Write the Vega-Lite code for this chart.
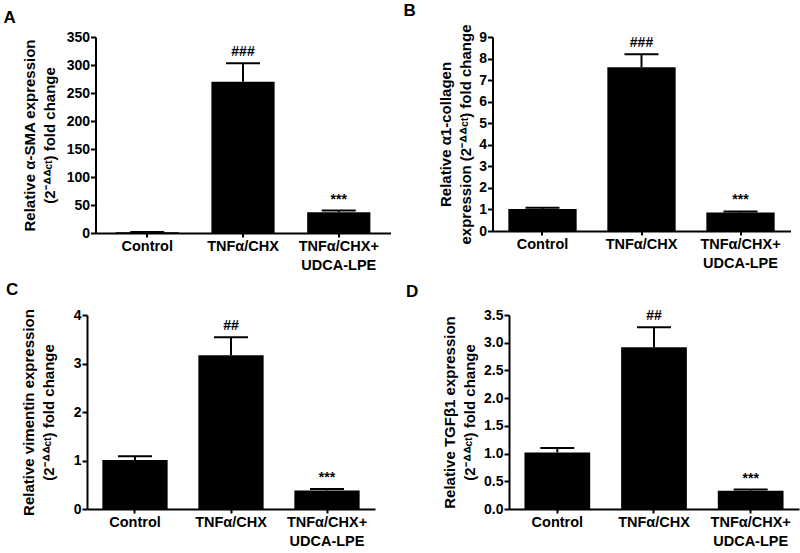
{
  "$schema": "https://vega.github.io/schema/vega-lite/v6.json",
  "padding": {"left": 3, "top": 1, "right": 2, "bottom": 2},
  "background": "white",
  "datasets": {
    "bars": [
      {"panel": "A", "group": "Control", "value": 1.5, "upper": 2.0, "annot": ""},
      {"panel": "A", "group": "TNFα/CHX", "value": 270, "upper": 303, "annot": "###"},
      {"panel": "A", "group": "TNFα/CHX+|UDCA-LPE", "value": 37, "upper": 40, "annot": "***"},
      {"panel": "B", "group": "Control", "value": 1.02, "upper": 1.08, "annot": ""},
      {"panel": "B", "group": "TNFα/CHX", "value": 7.6, "upper": 8.2, "annot": "###"},
      {"panel": "B", "group": "TNFα/CHX+|UDCA-LPE", "value": 0.86, "upper": 0.91, "annot": "***"},
      {"panel": "C", "group": "Control", "value": 1.01, "upper": 1.09, "annot": ""},
      {"panel": "C", "group": "TNFα/CHX", "value": 3.17, "upper": 3.54, "annot": "##"},
      {"panel": "C", "group": "TNFα/CHX+|UDCA-LPE", "value": 0.38, "upper": 0.41, "annot": "***"},
      {"panel": "D", "group": "Control", "value": 1.02, "upper": 1.1, "annot": ""},
      {"panel": "D", "group": "TNFα/CHX", "value": 2.92, "upper": 3.28, "annot": "##"},
      {"panel": "D", "group": "TNFα/CHX+|UDCA-LPE", "value": 0.33, "upper": 0.35, "annot": "***"}
    ]
  },
  "data": {"name": "bars"},
  "vconcat": [
    {
      "hconcat": [
        {
          "width": 295, "height": 196,
          "title": {"text": "A", "dx": -92},
          "transform": [{"filter": "datum.panel == 'A'"}],
          "encoding": {"x": {"field": "group", "type": "nominal", "sort": ["Control", "TNFα/CHX", "TNFα/CHX+|UDCA-LPE"], "scale": {"paddingInner": 0.34, "paddingOuter": 0.21}, "axis": {"title": null, "labelAngle": 0, "labelExpr": "split(datum.label, '|')"}}},
          "layer": [
            {"mark": {"type": "bar", "color": "black"}, "encoding": {"y": {"field": "value", "type": "quantitative", "scale": {"domain": [0, 350], "nice": false}, "axis": {"values": [0, 50, 100, 150, 200, 250, 300, 350], "title": ["Relative α-SMA expression", "(2⁻ᐞᐞᶜᵗ) fold change"], "titlePadding": 9}}}},
            {"mark": {"type": "rule", "color": "black", "strokeWidth": 2}, "encoding": {"y": {"field": "value", "type": "quantitative", "axis": {"values": [0, 50, 100, 150, 200, 250, 300, 350], "title": ["Relative α-SMA expression", "(2⁻ᐞᐞᶜᵗ) fold change"], "titlePadding": 9}}, "y2": {"field": "upper"}}},
            {"mark": {"type": "tick", "color": "black", "thickness": 2, "size": 34, "opacity": 1}, "encoding": {"y": {"field": "upper", "type": "quantitative", "axis": {"values": [0, 50, 100, 150, 200, 250, 300, 350], "title": ["Relative α-SMA expression", "(2⁻ᐞᐞᶜᵗ) fold change"], "titlePadding": 9}}}},
            {"mark": {"type": "text", "baseline": "bottom", "dy": -4, "fontSize": 14, "fontWeight": "bold", "color": "black"}, "encoding": {"y": {"field": "upper", "type": "quantitative", "axis": {"values": [0, 50, 100, 150, 200, 250, 300, 350], "title": ["Relative α-SMA expression", "(2⁻ᐞᐞᶜᵗ) fold change"], "titlePadding": 9}}, "text": {"field": "annot"}}}
          ]
        },
        {
          "width": 298, "height": 194,
          "title": {"text": "B", "dx": -89},
          "transform": [{"filter": "datum.panel == 'B'"}],
          "encoding": {"x": {"field": "group", "type": "nominal", "sort": ["Control", "TNFα/CHX", "TNFα/CHX+|UDCA-LPE"], "scale": {"paddingInner": 0.31, "paddingOuter": 0.16}, "axis": {"title": null, "labelAngle": 0, "labelExpr": "split(datum.label, '|')"}}},
          "layer": [
            {"mark": {"type": "bar", "color": "black"}, "encoding": {"y": {"field": "value", "type": "quantitative", "scale": {"domain": [0, 9], "nice": false}, "axis": {"values": [0, 1, 2, 3, 4, 5, 6, 7, 8, 9], "title": ["Relative α1-collagen", "expression (2⁻ᐞᐞᶜᵗ) fold change"], "titlePadding": 5}}}},
            {"mark": {"type": "rule", "color": "black", "strokeWidth": 2}, "encoding": {"y": {"field": "value", "type": "quantitative", "axis": {"values": [0, 1, 2, 3, 4, 5, 6, 7, 8, 9], "title": ["Relative α1-collagen", "expression (2⁻ᐞᐞᶜᵗ) fold change"], "titlePadding": 5}}, "y2": {"field": "upper"}}},
            {"mark": {"type": "tick", "color": "black", "thickness": 2, "size": 34, "opacity": 1}, "encoding": {"y": {"field": "upper", "type": "quantitative", "axis": {"values": [0, 1, 2, 3, 4, 5, 6, 7, 8, 9], "title": ["Relative α1-collagen", "expression (2⁻ᐞᐞᶜᵗ) fold change"], "titlePadding": 5}}}},
            {"mark": {"type": "text", "baseline": "bottom", "dy": -4, "fontSize": 14, "fontWeight": "bold", "color": "black"}, "encoding": {"y": {"field": "upper", "type": "quantitative", "axis": {"values": [0, 1, 2, 3, 4, 5, 6, 7, 8, 9], "title": ["Relative α1-collagen", "expression (2⁻ᐞᐞᶜᵗ) fold change"], "titlePadding": 5}}, "text": {"field": "annot"}}}
          ]
        }
      ],
      "spacing": 13,
      "align": "none"
    },
    {
      "hconcat": [
        {
          "width": 288, "height": 194,
          "title": {"text": "C", "dx": -81, "offset": 9},
          "transform": [{"filter": "datum.panel == 'C'"}],
          "encoding": {"x": {"field": "group", "type": "nominal", "sort": ["Control", "TNFα/CHX", "TNFα/CHX+|UDCA-LPE"], "scale": {"paddingInner": 0.32, "paddingOuter": 0.16}, "axis": {"title": null, "labelAngle": 0, "labelExpr": "split(datum.label, '|')"}}},
          "layer": [
            {"mark": {"type": "bar", "color": "black"}, "encoding": {"y": {"field": "value", "type": "quantitative", "scale": {"domain": [0, 4], "nice": false}, "axis": {"values": [0, 1, 2, 3, 4], "title": ["Relative vimentin expression", "(2⁻ᐞᐞᶜᵗ) fold change"], "titlePadding": 17}}}},
            {"mark": {"type": "rule", "color": "black", "strokeWidth": 2}, "encoding": {"y": {"field": "value", "type": "quantitative", "axis": {"values": [0, 1, 2, 3, 4], "title": ["Relative vimentin expression", "(2⁻ᐞᐞᶜᵗ) fold change"], "titlePadding": 17}}, "y2": {"field": "upper"}}},
            {"mark": {"type": "tick", "color": "black", "thickness": 2, "size": 34, "opacity": 1}, "encoding": {"y": {"field": "upper", "type": "quantitative", "axis": {"values": [0, 1, 2, 3, 4], "title": ["Relative vimentin expression", "(2⁻ᐞᐞᶜᵗ) fold change"], "titlePadding": 17}}}},
            {"mark": {"type": "text", "baseline": "bottom", "dy": -4, "fontSize": 14, "fontWeight": "bold", "color": "black"}, "encoding": {"y": {"field": "upper", "type": "quantitative", "axis": {"values": [0, 1, 2, 3, 4], "title": ["Relative vimentin expression", "(2⁻ᐞᐞᶜᵗ) fold change"], "titlePadding": 17}}, "text": {"field": "annot"}}}
          ]
        },
        {
          "width": 290, "height": 194,
          "title": {"text": "D", "dx": -103, "offset": 7},
          "transform": [{"filter": "datum.panel == 'D'"}],
          "encoding": {"x": {"field": "group", "type": "nominal", "sort": ["Control", "TNFα/CHX", "TNFα/CHX+|UDCA-LPE"], "scale": {"paddingInner": 0.32, "paddingOuter": 0.16}, "axis": {"title": null, "labelAngle": 0, "labelExpr": "split(datum.label, '|')"}}},
          "layer": [
            {"mark": {"type": "bar", "color": "black"}, "encoding": {"y": {"field": "value", "type": "quantitative", "scale": {"domain": [0, 3.5], "nice": false}, "axis": {"values": [0, 0.5, 1, 1.5, 2, 2.5, 3, 3.5], "format": ".1f", "title": ["Relative TGFβ1 expression", "(2⁻ᐞᐞᶜᵗ) fold change"], "titlePadding": 6}}}},
            {"mark": {"type": "rule", "color": "black", "strokeWidth": 2}, "encoding": {"y": {"field": "value", "type": "quantitative", "axis": {"values": [0, 0.5, 1, 1.5, 2, 2.5, 3, 3.5], "format": ".1f", "title": ["Relative TGFβ1 expression", "(2⁻ᐞᐞᶜᵗ) fold change"], "titlePadding": 6}}, "y2": {"field": "upper"}}},
            {"mark": {"type": "tick", "color": "black", "thickness": 2, "size": 34, "opacity": 1}, "encoding": {"y": {"field": "upper", "type": "quantitative", "axis": {"values": [0, 0.5, 1, 1.5, 2, 2.5, 3, 3.5], "format": ".1f", "title": ["Relative TGFβ1 expression", "(2⁻ᐞᐞᶜᵗ) fold change"], "titlePadding": 6}}}},
            {"mark": {"type": "text", "baseline": "bottom", "dy": -4, "fontSize": 14, "fontWeight": "bold", "color": "black"}, "encoding": {"y": {"field": "upper", "type": "quantitative", "axis": {"values": [0, 0.5, 1, 1.5, 2, 2.5, 3, 3.5], "format": ".1f", "title": ["Relative TGFβ1 expression", "(2⁻ᐞᐞᶜᵗ) fold change"], "titlePadding": 6}}, "text": {"field": "annot"}}}
          ]
        }
      ],
      "spacing": 31,
      "align": "none"
    }
  ],
  "spacing": 9,
  "center": true,
  "config": {
    "view": {"stroke": null},
    "font": "Liberation Sans",
    "title": {"anchor": "start", "frame": "group", "fontSize": 17, "fontWeight": "bold", "color": "black", "font": "Liberation Sans", "offset": 3},
    "axis": {"domainColor": "black", "domainWidth": 2, "tickColor": "black", "tickWidth": 2, "labelColor": "black", "titleColor": "black", "labelFontWeight": "bold", "titleFontWeight": "bold", "grid": false, "labelFont": "Liberation Sans", "titleFont": "Liberation Sans", "labelOverlap": false},
    "axisY": {"tickSize": 5, "labelPadding": 1, "labelFontSize": 14, "titleFontSize": 15, "titleLineHeight": 20},
    "axisX": {"tickSize": 4, "labelPadding": 2, "labelFontSize": 14.5, "labelLineHeight": 19}
  }
}
